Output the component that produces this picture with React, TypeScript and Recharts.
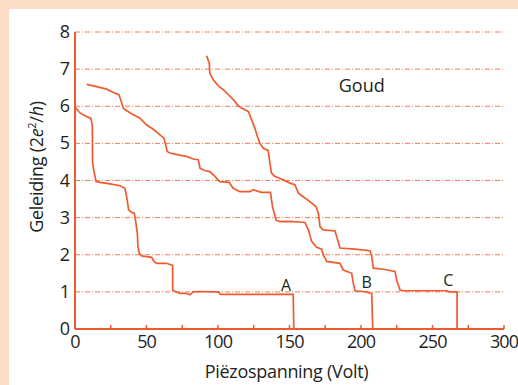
import React from 'react';
import { LineChart, Line, XAxis, YAxis, CartesianGrid, ReferenceDot, Label } from 'recharts';

type Pt = { v: number; g: number };

const curveA: Pt[] = [
  { v: 0, g: 5.98 }, { v: 3.5, g: 5.82 }, { v: 7.7, g: 5.73 }, { v: 11, g: 5.68 },
  { v: 12.1, g: 5.5 }, { v: 12.3, g: 4.47 }, { v: 13.5, g: 4.2 }, { v: 14.7, g: 3.97 },
  { v: 17.5, g: 3.95 }, { v: 24.5, g: 3.91 }, { v: 31.4, g: 3.86 }, { v: 34.9, g: 3.79 },
  { v: 36.1, g: 3.57 }, { v: 37.5, g: 3.21 }, { v: 39.6, g: 3.14 }, { v: 41.5, g: 3.12 },
  { v: 42.6, g: 2.85 }, { v: 43.6, g: 2.58 }, { v: 44, g: 2.22 }, { v: 45, g: 2.04 },
  { v: 46.6, g: 1.97 }, { v: 50, g: 1.95 }, { v: 53.6, g: 1.93 }, { v: 55.2, g: 1.82 },
  { v: 57.1, g: 1.77 }, { v: 64, g: 1.77 }, { v: 66.9, g: 1.73 }, { v: 68.3, g: 1.71 },
  { v: 68.3, g: 1.05 }, { v: 69.9, g: 1.01 }, { v: 73.4, g: 0.96 }, { v: 78, g: 0.96 },
  { v: 80.4, g: 0.92 }, { v: 82.7, g: 1.0 }, { v: 87.4, g: 1.01 }, { v: 100.2, g: 1.0 },
  { v: 101.8, g: 0.93 }, { v: 152.6, g: 0.93 }, { v: 153, g: 0 },
];

const curveB: Pt[] = [
  { v: 8.2, g: 6.59 }, { v: 15.1, g: 6.53 }, { v: 22.1, g: 6.46 }, { v: 26.8, g: 6.37 },
  { v: 30.7, g: 6.31 }, { v: 31.9, g: 6.18 }, { v: 33.8, g: 5.95 }, { v: 34.9, g: 5.91 },
  { v: 39.6, g: 5.8 }, { v: 45.4, g: 5.68 }, { v: 50, g: 5.5 }, { v: 54.7, g: 5.38 },
  { v: 59.4, g: 5.23 }, { v: 62.2, g: 5.14 }, { v: 63.4, g: 4.96 }, { v: 64.5, g: 4.78 },
  { v: 66.4, g: 4.74 }, { v: 72.2, g: 4.69 }, { v: 78, g: 4.65 }, { v: 82.7, g: 4.58 },
  { v: 86.2, g: 4.56 }, { v: 87.4, g: 4.33 }, { v: 90.8, g: 4.27 }, { v: 94.3, g: 4.24 },
  { v: 97.8, g: 4.11 }, { v: 101.3, g: 3.97 }, { v: 107.8, g: 3.95 }, { v: 110.6, g: 3.79 },
  { v: 115.3, g: 3.7 }, { v: 122.3, g: 3.7 }, { v: 124.6, g: 3.75 }, { v: 130.4, g: 3.68 },
  { v: 136.7, g: 3.68 }, { v: 138.1, g: 3.3 }, { v: 140.5, g: 2.94 }, { v: 143.3, g: 2.89 },
  { v: 150.3, g: 2.9 }, { v: 160.8, g: 2.87 }, { v: 163.2, g: 2.67 }, { v: 165.5, g: 2.36 },
  { v: 169, g: 2.2 }, { v: 172.5, g: 2.15 }, { v: 173.6, g: 2.0 }, { v: 176, g: 1.82 },
  { v: 185.3, g: 1.77 }, { v: 187.6, g: 1.59 }, { v: 193.5, g: 1.5 }, { v: 194.6, g: 1.23 },
  { v: 195.8, g: 1.03 }, { v: 201.6, g: 1.01 }, { v: 207.5, g: 0.96 }, { v: 208.2, g: 0 },
];

const curveC: Pt[] = [
  { v: 92, g: 7.36 }, { v: 93.9, g: 7.16 }, { v: 94.3, g: 6.89 }, { v: 96.7, g: 6.71 },
  { v: 100.2, g: 6.55 }, { v: 103.7, g: 6.45 }, { v: 108.4, g: 6.27 }, { v: 111.8, g: 6.13 },
  { v: 114.2, g: 6.01 }, { v: 116.5, g: 5.95 }, { v: 121.2, g: 5.86 }, { v: 123.5, g: 5.64 },
  { v: 125.8, g: 5.41 }, { v: 127.5, g: 5.19 }, { v: 129.3, g: 5.0 }, { v: 131.7, g: 4.87 },
  { v: 135.1, g: 4.81 }, { v: 136.3, g: 4.47 }, { v: 137.4, g: 4.2 }, { v: 139.8, g: 4.11 },
  { v: 145.6, g: 4.02 }, { v: 150.3, g: 3.93 }, { v: 153.8, g: 3.89 }, { v: 156.2, g: 3.66 },
  { v: 160.8, g: 3.53 }, { v: 165.5, g: 3.39 }, { v: 168.5, g: 3.3 }, { v: 170.2, g: 3.12 },
  { v: 171.3, g: 2.76 }, { v: 173.6, g: 2.67 }, { v: 181.8, g: 2.64 }, { v: 183, g: 2.49 },
  { v: 185.3, g: 2.18 }, { v: 195.8, g: 2.15 }, { v: 206.3, g: 2.11 }, { v: 207.5, g: 1.95 },
  { v: 208.6, g: 1.64 }, { v: 215.6, g: 1.61 }, { v: 223.8, g: 1.55 }, { v: 224.9, g: 1.32 },
  { v: 227.3, g: 1.05 }, { v: 229.4, g: 1.03 }, { v: 259.7, g: 1.03 }, { v: 262, g: 1.0 },
  { v: 267.2, g: 1.0 }, { v: 267.2, g: 0 },
];

const xTicks = [0, 25, 50, 75, 100, 125, 150, 175, 200, 225, 250, 275, 300];
const xLabelTicks = [0, 50, 100, 150, 200, 250, 300];
const yTicks = [0, 1, 2, 3, 4, 5, 6, 7, 8];

const curveLabels = [
  { name: 'A', v: 147.6, g: 1.19 },
  { name: 'B', v: 204, g: 1.25 },
  { name: 'C', v: 261, g: 1.3 },
];
const titleLabel = { name: 'Goud', v: 200.5, g: 6.56 };

const ORANGE = '#ef5a2f';
const GRID = '#f27a55';
const TEXT = '#231f20';
const FONT = '"Open Sans", sans-serif';

const XTick = (props: any) => {
  const { x, y, payload } = props;
  if (!xLabelTicks.includes(payload.value)) return <g />;
  return (
    <text x={x} y={y} dy={17} textAnchor="middle" fill={TEXT} fontSize={18} letterSpacing={-1} fontFamily={FONT}>
      {payload.value}
    </text>
  );
};

const YTick = (props: any) => {
  const { x, y, payload } = props;
  return (
    <text x={x} y={y} dy={6} textAnchor="end" fill={TEXT} fontSize={18} fontFamily={FONT}>
      {payload.value}
    </text>
  );
};

const YTitle = () => (
  <text
    x={43}
    y={167}
    transform="rotate(-90, 43, 167)"
    textAnchor="middle"
    fill={TEXT}
    fontSize={18}
    letterSpacing={-0.3}
    fontFamily={FONT}
  >
    Geleiding (2<tspan fontStyle="italic">e</tspan>
    <tspan baselineShift="super" fontSize={11}>2</tspan>
    <tspan>/</tspan>
    <tspan fontStyle="italic">h</tspan>)
  </text>
);

export default function App() {
  return (
    <div style={{ position: 'absolute', left: 0, top: 0, width: 518, height: 385, background: '#fddcc8' }}>
      <div style={{ position: 'absolute', left: 9, top: 9, width: 509, height: 376, background: '#ffffff' }} />
      <div style={{ position: 'absolute', left: 0, top: 0 }}>
        <LineChart width={518} height={385} margin={{ top: 32, right: 14, bottom: 0, left: 0 }}>
          <CartesianGrid vertical={false} stroke={GRID} strokeDasharray="5 2 1 2" strokeWidth={1} />
          <XAxis
            dataKey="v"
            type="number"
            domain={[0, 300]}
            ticks={xTicks}
            interval={0}
            height={56}
            stroke={ORANGE}
            axisLine={{ stroke: ORANGE, strokeWidth: 2 }}
            tickLine={{ stroke: ORANGE, strokeWidth: 1.5 }}
            tickSize={-4}
            tickMargin={6}
            tick={XTick}
            allowDataOverflow
          >
            <Label
              value="Piëzospanning (Volt)"
              position="insideBottom"
              offset={7}
              dx={-3}
              fill={TEXT}
              fontSize={18}
              letterSpacing={-0.3}
              fontFamily={FONT}
            />
          </XAxis>
          <XAxis
            xAxisId="top"
            orientation="top"
            type="number"
            domain={[0, 300]}
            ticks={xTicks}
            interval={0}
            height={0}
            axisLine={{ stroke: ORANGE, strokeWidth: 2 }}
            tickLine={{ stroke: '#f7a68c', strokeWidth: 1 }}
            tickSize={-3}
            tick={false}
            allowDataOverflow
          />
          <YAxis
            dataKey="g"
            type="number"
            domain={[0, 8]}
            ticks={yTicks}
            interval={0}
            width={75}
            axisLine={{ stroke: ORANGE, strokeWidth: 2 }}
            tickLine={false}
            tickSize={0}
            tickMargin={5}
            tick={YTick}
            allowDataOverflow
          >
            <Label content={YTitle} />
          </YAxis>
          <YAxis
            yAxisId="right"
            orientation="right"
            type="number"
            domain={[0, 8]}
            width={0}
            axisLine={{ stroke: ORANGE, strokeWidth: 2 }}
            tickLine={false}
            tick={false}
          />
          <Line data={curveA} dataKey="g" type="linear" stroke={ORANGE} strokeWidth={1.7} dot={false} isAnimationActive={false} />
          <Line data={curveB} dataKey="g" type="linear" stroke={ORANGE} strokeWidth={1.7} dot={false} isAnimationActive={false} />
          <Line data={curveC} dataKey="g" type="linear" stroke={ORANGE} strokeWidth={1.7} dot={false} isAnimationActive={false} />
          {curveLabels.map((l) => (
            <ReferenceDot
              key={l.name}
              x={l.v}
              y={l.g}
              r={0}
              fill="none"
              stroke="none"
              label={{ value: l.name, position: 'center', fill: TEXT, fontSize: 16, fontFamily: FONT }}
            />
          ))}
          <ReferenceDot
            x={titleLabel.v}
            y={titleLabel.g}
            r={0}
            fill="none"
            stroke="none"
            label={{ value: titleLabel.name, position: 'center', fill: TEXT, fontSize: 18, fontFamily: FONT }}
          />
        </LineChart>
      </div>
    </div>
  );
}
